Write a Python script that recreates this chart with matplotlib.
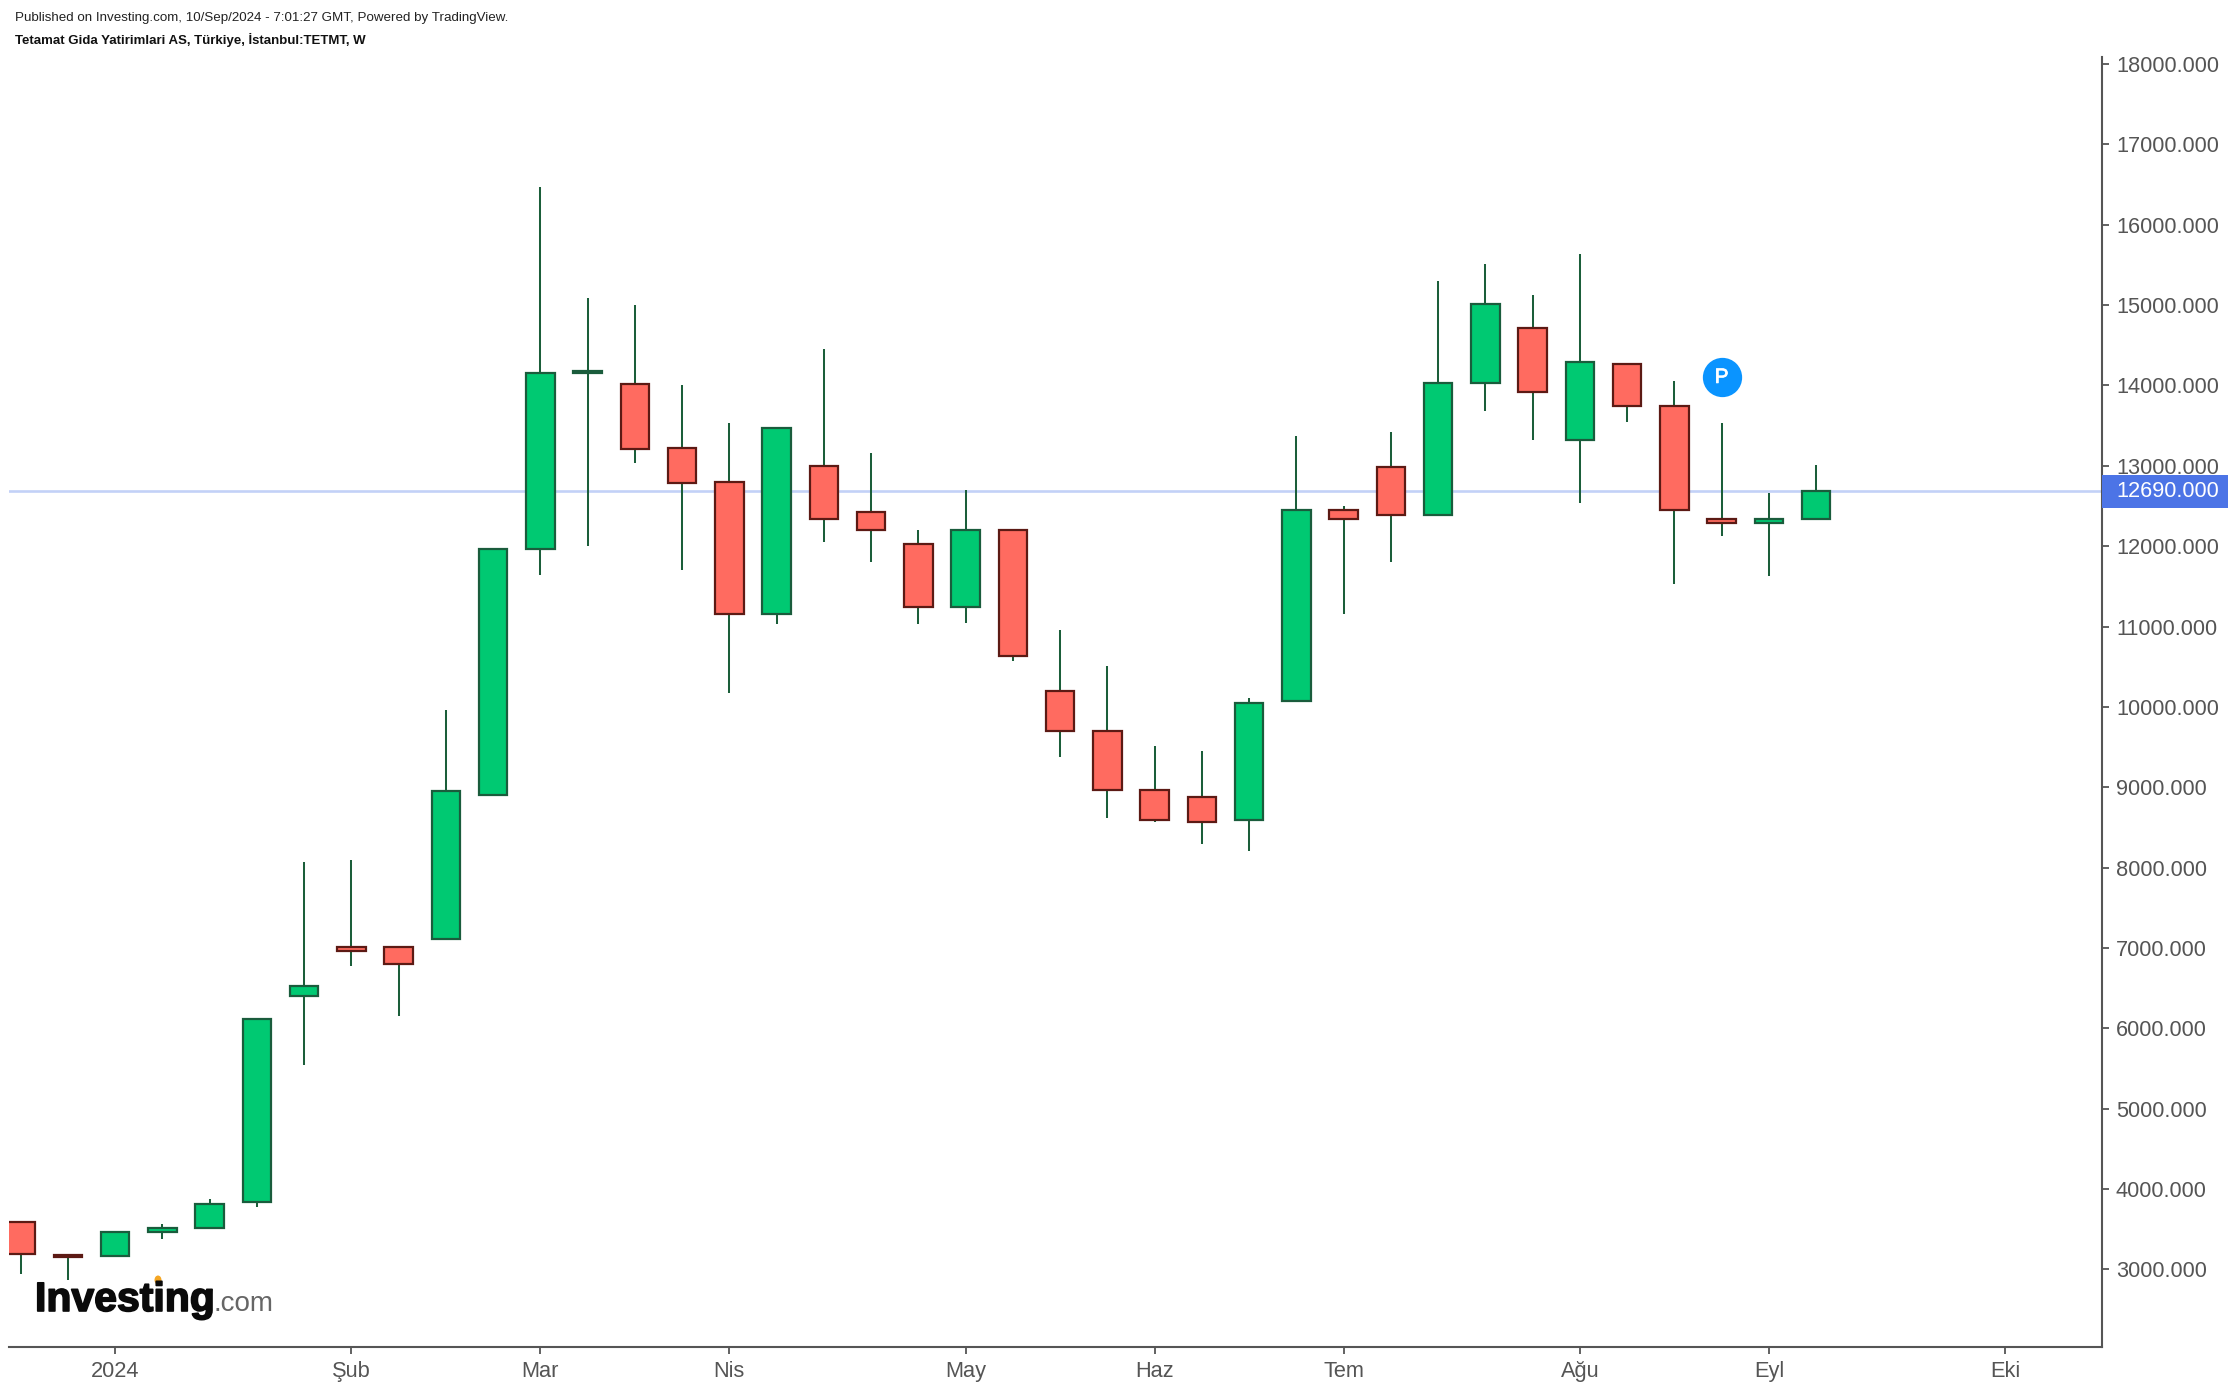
import matplotlib
matplotlib.use("Agg")
import matplotlib.pyplot as plt
import matplotlib.patheffects as pe
from matplotlib.patches import Rectangle, Ellipse
from matplotlib.transforms import blended_transform_factory

plt.rcParams['font.family'] = ['Liberation Sans', 'DejaVu Sans']

opens  = [3594,3180,3168,3461,3514,3834,6406,7009,7009,7107,8899,11968,14149,14016,13227,12801,11151,12997,12429,12021,11240,12198,10194,9697,8969,8881,8597,10070,12447,12980,12393,14025,14717,13316,14273,13741,12340,12287,12340]
highs  = [3594,3180,3470,3568,3869,6113,8065,8100,7009,9963,11968,16474,15089,15000,14007,13529,13475,14450,13156,12198,12695,12198,10956,10513,9519,9448,10105,13370,12500,13423,15302,15515,15125,15640,14273,14060,13529,12660,13014]
lows   = [2938,2867,3168,3381,3514,3772,5545,6770,6149,7107,8899,11647,12003,13032,11700,10176,11027,12056,11808,11027,11045,10565,9377,8615,8561,8295,8206,10070,11151,11808,12393,13688,13316,12535,13547,11523,12127,11630,12340]
closes = [3186,3150,3470,3514,3816,6113,6530,6956,6805,8952,11968,14149,14184,13209,12784,11151,13475,12340,12198,11240,12198,10637,9697,8969,8597,8561,10052,12447,12340,12393,14025,15016,13918,14290,13741,12447,12287,12340,12690]

month_pos = [2,7,11,15,20,24,28,33,37,42]
month_labels = ['2024','Şub','Mar','Nis','May','Haz','Tem','Ağu','Eyl','Eki']
y_ticks = list(range(3000,18001,1000))
last_price = 12690
marker_bar, marker_price = 36, 14100

GREEN,GREEN_E = '#00C972','#1A5C3C'
RED,RED_E = '#FF6B60','#5C1A14'
WICK = '#1B5E3A'
AXC = '#555555'

W,H = 2230,1386
fig = plt.figure(figsize=(W/100,H/100),dpi=100,facecolor='white')
L,R = 8.5,2102
T,B = 57,1347
ax = fig.add_axes([L/W,1-B/H,(R-L)/W,(B-T)/H])
ax.set_xlim(-0.256,44.05)
ax.set_ylim(2033,18088)

ax.axhline(last_price,color='#C3D1F7',lw=1.9,zorder=1)
xs = range(len(opens))
ax.vlines(xs,lows,highs,color=WICK,lw=1.45,zorder=2)
for i,(o,c) in enumerate(zip(opens,closes)):
    up = c>=o
    ax.bar(i,abs(c-o),bottom=min(o,c),width=0.6,
           facecolor=GREEN if up else RED,edgecolor=GREEN_E if up else RED_E,lw=1.6,zorder=3)

for s in ('top','left'):
    ax.spines[s].set_visible(False)
for s in ('right','bottom'):
    ax.spines[s].set_color(AXC)
    ax.spines[s].set_linewidth(1.5)
ax.yaxis.tick_right()
ax.set_yticks(y_ticks)
ax.set_yticklabels([f'{v}.000' for v in y_ticks])
ax.set_xticks(month_pos)
ax.set_xticklabels(month_labels)
ax.tick_params(axis='y',length=5,width=1.3,color=AXC,labelcolor=AXC,labelsize=15.7,pad=5)
ax.tick_params(axis='x',length=5,width=1.3,color=AXC,labelcolor=AXC,labelsize=15.7,pad=5)

tr = blended_transform_factory(ax.transAxes,ax.transData)
ax.add_patch(Rectangle((1,last_price-210),0.06,410,transform=tr,clip_on=False,
                       facecolor='#4C74E6',edgecolor='none',zorder=10))
ax.text(1+(14/(R-L)),last_price-5,f'{last_price}.000',transform=tr,color='white',fontsize=15.7,
        va='center',ha='left',zorder=11,clip_on=False)

ax.scatter([marker_bar],[marker_price],s=800,color='#0A94FF',zorder=6,linewidths=0)
ax.text(marker_bar,marker_price,'P',color='white',fontsize=15,ha='center',va='center',zorder=7,
        path_effects=[pe.withStroke(linewidth=0.5,foreground='white')])

fig.text(15/W,1-18/H,'Published on Investing.com, 10/Sep/2024 - 7:01:27 GMT, Powered by TradingView.',
         fontsize=9.6,color='#222222',va='center')
fig.text(15/W,1-40/H,'Tetamat Gida Yatirimlari AS, Türkiye, İstanbul:TETMT, W',
         fontsize=9.55,color='#111111',fontweight='bold',va='center')

fig.text(35/W,1-1311/H,'Investing',fontsize=29.5,fontweight='bold',color='#0A0A0A',va='baseline',
         path_effects=[pe.withStroke(linewidth=1.2,foreground='#0A0A0A')])
fig.text(214/W,1-1311/H,'.com',fontsize=20,color='#666666',va='baseline')
fig.add_artist(Ellipse((158/W,1-1280/H),7/W,9/H,transform=fig.transFigure,facecolor='#F5A623',edgecolor='none'))

fig.savefig('out.png',dpi=100)
